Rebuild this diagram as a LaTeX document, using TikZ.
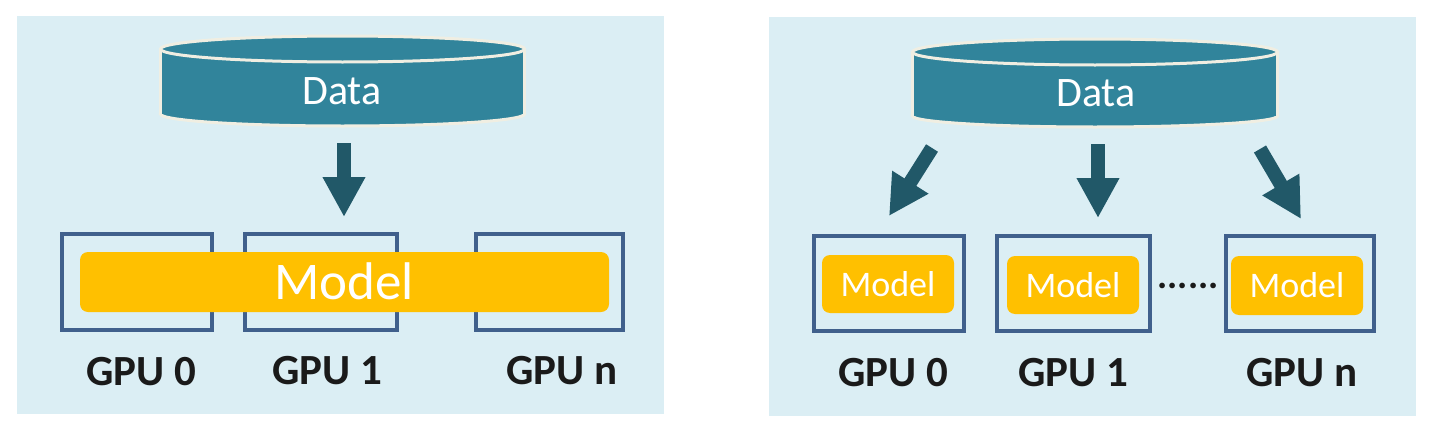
\documentclass[tikz,border=0pt]{standalone}
\usepackage{fontspec}
\setmainfont{Carlito}
\usetikzlibrary{arrows.meta}
\definecolor{panelbg}{RGB}{219,238,244}
\definecolor{cyl}{RGB}{49,132,155}
\definecolor{cream}{RGB}{240,238,226}
\definecolor{arrowc}{RGB}{33,88,104}
\definecolor{gpuline}{RGB}{64,96,140}
\definecolor{modelc}{RGB}{255,192,0}
\definecolor{labelc}{RGB}{26,26,26}
\tikzset{
  panel/.style={fill=panelbg, draw=none},
  gpubox/.style={draw=gpuline, line width=4.5pt, fill=none, inner sep=0pt, rectangle},
  modelbox/.style={fill=modelc, draw=none, rounded corners=8pt, inner sep=0pt, rectangle},
  modeltext/.style={text=white, inner sep=0pt, anchor=base},
  datatext/.style={text=white, inner sep=0pt, anchor=base, font=\fontsize{42}{50}\selectfont},
  gpulabel/.style={text=labelc, inner sep=0pt, anchor=base, font=\bfseries\fontsize{43}{50}\selectfont},
  bigarrow/.style={draw=arrowc, line width=14pt, -{Triangle[width=40pt,length=40pt]}, fill=arrowc},
  cylside/.style={draw=cream, line width=3pt},
}
\begin{document}
\begin{tikzpicture}[x=1pt,y=-1pt]
\useasboundingbox (0,0) rectangle (1440,439);
\fill[white] (0,0) rectangle (1440,439);
% panels
\fill[panel] (17,16) rectangle (664,414);
\fill[panel] (769,17) rectangle (1416,416);

% ---------- left cylinder ----------
\filldraw[cylside, fill=cyl] (342.5,114) ellipse [x radius=182, y radius=12];
\fill[cyl] (160.5,49) rectangle (524.5,114);
\draw[cylside] (160.5,49) -- (160.5,114) (524.5,49) -- (524.5,114);
\filldraw[cylside, fill=cyl] (342.5,49) ellipse [x radius=182, y radius=13];
\node[datatext] (dataL) at (342,104) {Data};

% ---------- right cylinder ----------
\filldraw[cylside, fill=cyl] (1095,116) ellipse [x radius=182.5, y radius=11];
\fill[cyl] (912.5,52) rectangle (1277.5,116);
\draw[cylside] (912.5,52) -- (912.5,116) (1277.5,52) -- (1277.5,116);
\filldraw[cylside, fill=cyl] (1095,52) ellipse [x radius=182.5, y radius=13];
\node[datatext] (dataR) at (1096,106) {Data};

% ---------- left GPUs ----------
\node[gpubox, minimum width=150pt, minimum height=96pt] (L0) at (137,282) {};
\node[gpubox, minimum width=152pt, minimum height=96pt] (L1) at (321,282) {};
\node[gpubox, minimum width=147pt, minimum height=96pt] (Ln) at (549.5,282) {};
\node[modelbox, minimum width=529pt, minimum height=60pt] (LM) at (344.5,282) {};
\node[modeltext, font=\fontsize{53}{60}\selectfont] (LMt) at (344,299) {Model};
\node[gpulabel] (gL0) at (141,385) {GPU 0};
\node[gpulabel] (gL1) at (327,384) {GPU 1};
\node[gpulabel] (gLn) at (562,384) {GPU n};

% ---------- right GPUs ----------
\node[gpubox, minimum width=150pt, minimum height=95pt] (R0) at (889,283.5) {};
\node[gpubox, minimum width=153pt, minimum height=95pt] (R1) at (1073.5,283.5) {};
\node[gpubox, minimum width=148pt, minimum height=95pt] (Rn) at (1300,283.5) {};
\node[modelbox, minimum width=132pt, minimum height=58pt] (RM0) at (888,284) {};
\node[modelbox, minimum width=132pt, minimum height=58pt] (RM1) at (1073,285) {};
\node[modelbox, minimum width=132pt, minimum height=59pt] (RMn) at (1297,285.5) {};
\node[modeltext, font=\fontsize{36}{42}\selectfont] (RM0t) at (888,296) {Model};
\node[modeltext, font=\fontsize{36}{42}\selectfont] (RM1t) at (1073,297) {Model};
\node[modeltext, font=\fontsize{36}{42}\selectfont] (RMnt) at (1297,297) {Model};
\node[text=labelc, inner sep=0pt, anchor=base, font=\bfseries\fontsize{38}{44}\selectfont] (dots) at (1188,288) {......};
\node[gpulabel] (gR0) at (893,386) {GPU 0};
\node[gpulabel] (gR1) at (1073,386) {GPU 1};
\node[gpulabel] (gRn) at (1302,386) {GPU n};

% ---------- arrows ----------
\coordinate (aLs) at (344,143);
\coordinate (aLe) at (344,217);
\coordinate (aR0s) at (932,148);
\coordinate (aR0e) at (889,216);
\coordinate (aR1s) at (1098,144);
\coordinate (aR1e) at (1098,218);
\coordinate (aRns) at (1260,149);
\coordinate (aRne) at (1301,219);
\draw[bigarrow] (aLs) -- (aLe);
\draw[bigarrow] (aR0s) -- (aR0e);
\draw[bigarrow] (aR1s) -- (aR1e);
\draw[bigarrow] (aRns) -- (aRne);
\end{tikzpicture}
\end{document}
